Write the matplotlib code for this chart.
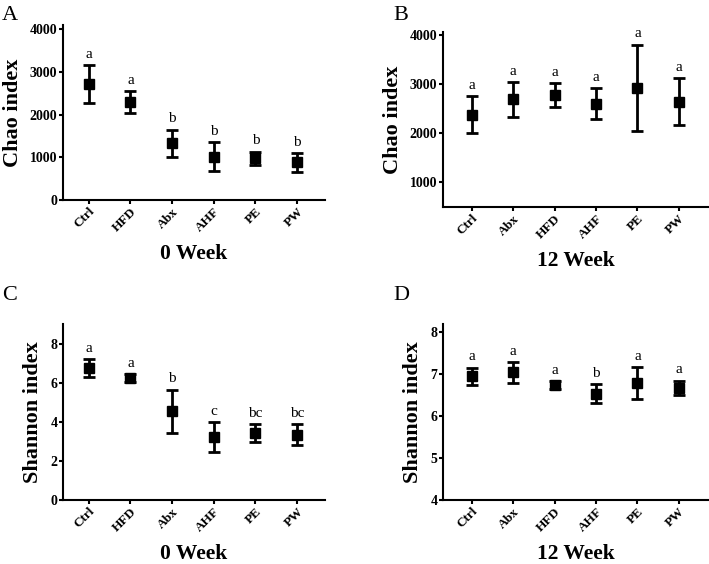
import matplotlib
matplotlib.use('Agg')
import matplotlib.pyplot as plt

plt.rcParams['font.family'] = ['Liberation Serif', 'DejaVu Serif']

groups_0w = ['Ctrl', 'HFD', 'Abx', 'AHF', 'PE', 'PW']
groups_12w = ['Ctrl', 'Abx', 'HFD', 'AHF', 'PE', 'PW']

chao_0w = [2720, 2300, 1330, 1010, 980, 880]
chao_0w_err = [450, 250, 320, 340, 155, 215]
chao_0w_sig = ['a', 'a', 'b', 'b', 'b', 'b']

chao_12w = [2385, 2700, 2785, 2610, 2935, 2650]
chao_12w_err = [375, 355, 245, 320, 880, 480]
chao_12w_sig = ['a', 'a', 'a', 'a', 'a', 'a']

shannon_0w = [6.75, 6.25, 4.55, 3.22, 3.43, 3.34]
shannon_0w_err = [0.44, 0.2, 1.1, 0.76, 0.47, 0.55]
shannon_0w_sig = ['a', 'a', 'b', 'c', 'bc', 'bc']

shannon_12w = [6.95, 7.05, 6.75, 6.54, 6.8, 6.68]
shannon_12w_err = [0.21, 0.25, 0.09, 0.22, 0.38, 0.17]
shannon_12w_sig = ['a', 'a', 'a', 'b', 'a', 'a']

W, H = 709, 564
fig = plt.figure(figsize=(W / 100, H / 100), dpi=100)


def box(l, t, r, b):
    return [l / W, 1 - b / H, (r - l) / W, (b - t) / H]


def panel(rect, letter, lpos, groups, vals, errs, sig, ylabel, xlabel, ylim, yticks, xlim):
    ax = fig.add_axes(box(*rect))
    x = list(range(len(groups)))
    ax.errorbar(x, vals, yerr=errs, fmt='s', color='black', ms=7.5,
                elinewidth=2, capsize=4.5, capthick=2)
    for i in x:
        ax.annotate(sig[i], (i, vals[i] + errs[i]), xytext=(0, 3),
                    textcoords='offset points', ha='center', va='bottom',
                    fontsize=11)
    ax.set_xlim(*xlim)
    ax.set_ylim(*ylim)
    ax.set_yticks(yticks)
    ax.set_xticks(x)
    ax.set_xticklabels(groups, rotation=45, ha='right', rotation_mode='anchor',
                       fontsize=9.5, fontweight='bold')
    for lab in ax.get_yticklabels():
        lab.set_fontweight('bold')
        lab.set_fontsize(10)
    ax.spines['top'].set_visible(False)
    ax.spines['right'].set_visible(False)
    ax.spines['left'].set_linewidth(1.5)
    ax.spines['bottom'].set_linewidth(1.5)
    ax.tick_params(width=1.5, length=3, pad=1)
    ax.set_ylabel(ylabel, fontsize=16, fontweight='bold', labelpad=5)
    ax.set_xlabel(xlabel, fontsize=15.5, fontweight='bold', labelpad=7)
    fig.text(lpos[0] / W, 1 - lpos[1] / H, letter, fontsize=16, va='center', ha='left')
    return ax


panel((63, 25, 325, 200), 'A', (2, 15), groups_0w, chao_0w, chao_0w_err, chao_0w_sig,
      'Chao index', '0 Week', (0, 4100), [0, 1000, 2000, 3000, 4000], (-0.62, 5.67))
panel((443, 32, 708, 207), 'B', (393, 15), groups_12w, chao_12w, chao_12w_err, chao_12w_sig,
      'Chao index', '12 Week', (500, 4070), [1000, 2000, 3000, 4000], (-0.69, 5.7))
panel((63, 324, 325, 500), 'C', (2, 296), groups_0w, shannon_0w, shannon_0w_err, shannon_0w_sig,
      'Shannon index', '0 Week', (0, 9), [0, 2, 4, 6, 8], (-0.62, 5.67))
panel((443, 324, 708, 500), 'D', (393, 296), groups_12w, shannon_12w, shannon_12w_err, shannon_12w_sig,
      'Shannon index', '12 Week', (4, 8.2), [4, 5, 6, 7, 8], (-0.69, 5.7))

fig.savefig('out.png', dpi=100)
